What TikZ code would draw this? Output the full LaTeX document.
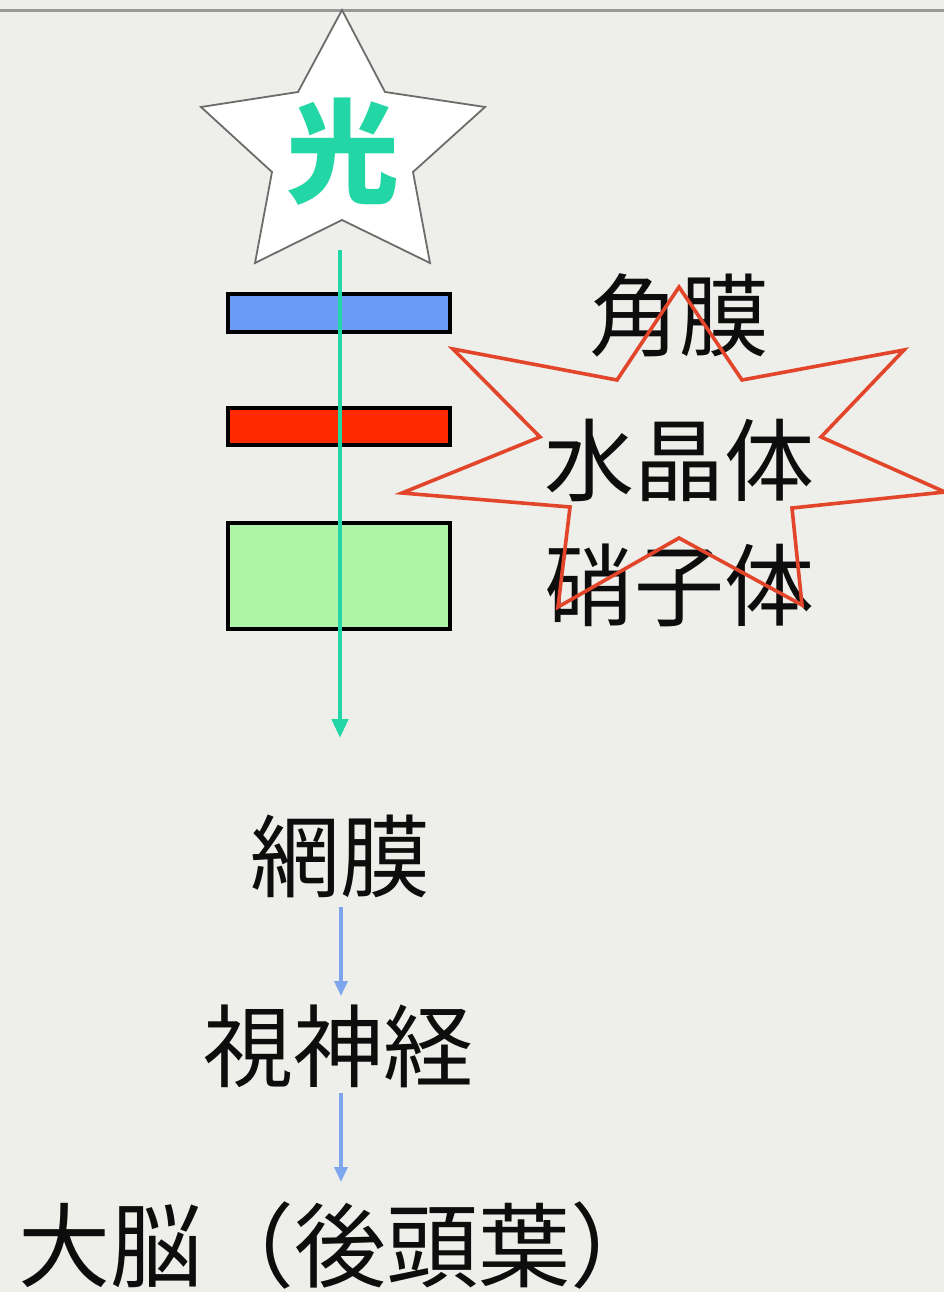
\documentclass[tikz,border=0pt]{standalone}
\usepackage{fontspec}
\newfontfamily\jp{Noto Sans CJK JP}
\usetikzlibrary{arrows.meta}
\definecolor{bgc}{HTML}{EEEEEA}
\definecolor{tealc}{HTML}{22D6A6}
\definecolor{bluec}{HTML}{6A9CF7}
\definecolor{redc}{HTML}{FF2A00}
\definecolor{greenc}{HTML}{AFF5A8}
\definecolor{arrowblue}{HTML}{7EA6EE}
\definecolor{burstc}{HTML}{E2452A}
\begin{document}
\begin{tikzpicture}[x=1pt,y=-1pt,
  lbl/.style={font=\jp\fontsize{90}{100}\selectfont, text=black!95, inner sep=0pt},
  layerbox/.style={draw=black, line width=3.8pt},
  bluearrow/.style={draw=arrowblue, line width=3.6pt, -{Triangle[width=13pt,length=15pt]}}]
\fill[bgc] (0,0) rectangle (944,1292);
\useasboundingbox (0,0) rectangle (944,1292);
\draw[gray!80, line width=3pt] (0,11) -- (944,11);
% star
\draw[fill=white, draw=gray!85!black, line width=1.8pt, line join=miter]
  (342,10) -- (385,92) -- (485,107) -- (413,172) -- (430,263) -- (342,220)
  -- (255,263) -- (272,172) -- (201,107) -- (298,92) -- cycle;
\node[font=\jp\bfseries\fontsize{113}{120}\selectfont, text=tealc, inner sep=0pt] (light) at (343,152) {光};
% layers
\node[layerbox, fill=bluec, minimum width=222pt, minimum height=38pt, inner sep=0pt] (cornea) at (339,313) {};
\node[layerbox, fill=redc, minimum width=222pt, minimum height=37pt, inner sep=0pt] (lens) at (339,426.5) {};
\node[layerbox, fill=greenc, minimum width=222pt, minimum height=106pt, inner sep=0pt] (vitreous) at (339,576) {};
% light path
\coordinate (lightstart) at (340,250);
\coordinate (lightend) at (340,738);
\draw[tealc, line width=4.5pt, -{Triangle[width=16pt,length=19pt]}] (lightstart) -- (lightend);
% labels
\node[lbl] (t1) at (679,315) {角膜};
\node[lbl] (t2) at (679,460) {水晶体};
\node[lbl] (t3) at (679,585) {硝子体};
% burst
\draw[burstc, line width=3.6pt, line join=miter]
  (679,287) -- (742,380) -- (904,350) -- (821,437) -- (945,492) -- (792,508)
  -- (802,605) -- (679,538) -- (558,607) -- (570,507) -- (402,493) -- (540,437)
  -- (453,349) -- (617,380) -- cycle;
% pathway
\node[lbl] (retina) at (340,856) {網膜};
\node[lbl] (nerve) at (338,1046) {視神経};
\node[lbl, font=\jp\fontsize{92}{100}\selectfont, anchor=west] (brain) at (18,1246) {大脳（後頭葉）};
\coordinate (a1s) at (341,907);
\coordinate (a1e) at (341,996);
\coordinate (a2s) at (341,1093);
\coordinate (a2e) at (341,1182);
\draw[bluearrow] (a1s) -- (a1e);
\draw[bluearrow] (a2s) -- (a2e);
\end{tikzpicture}
\end{document}
